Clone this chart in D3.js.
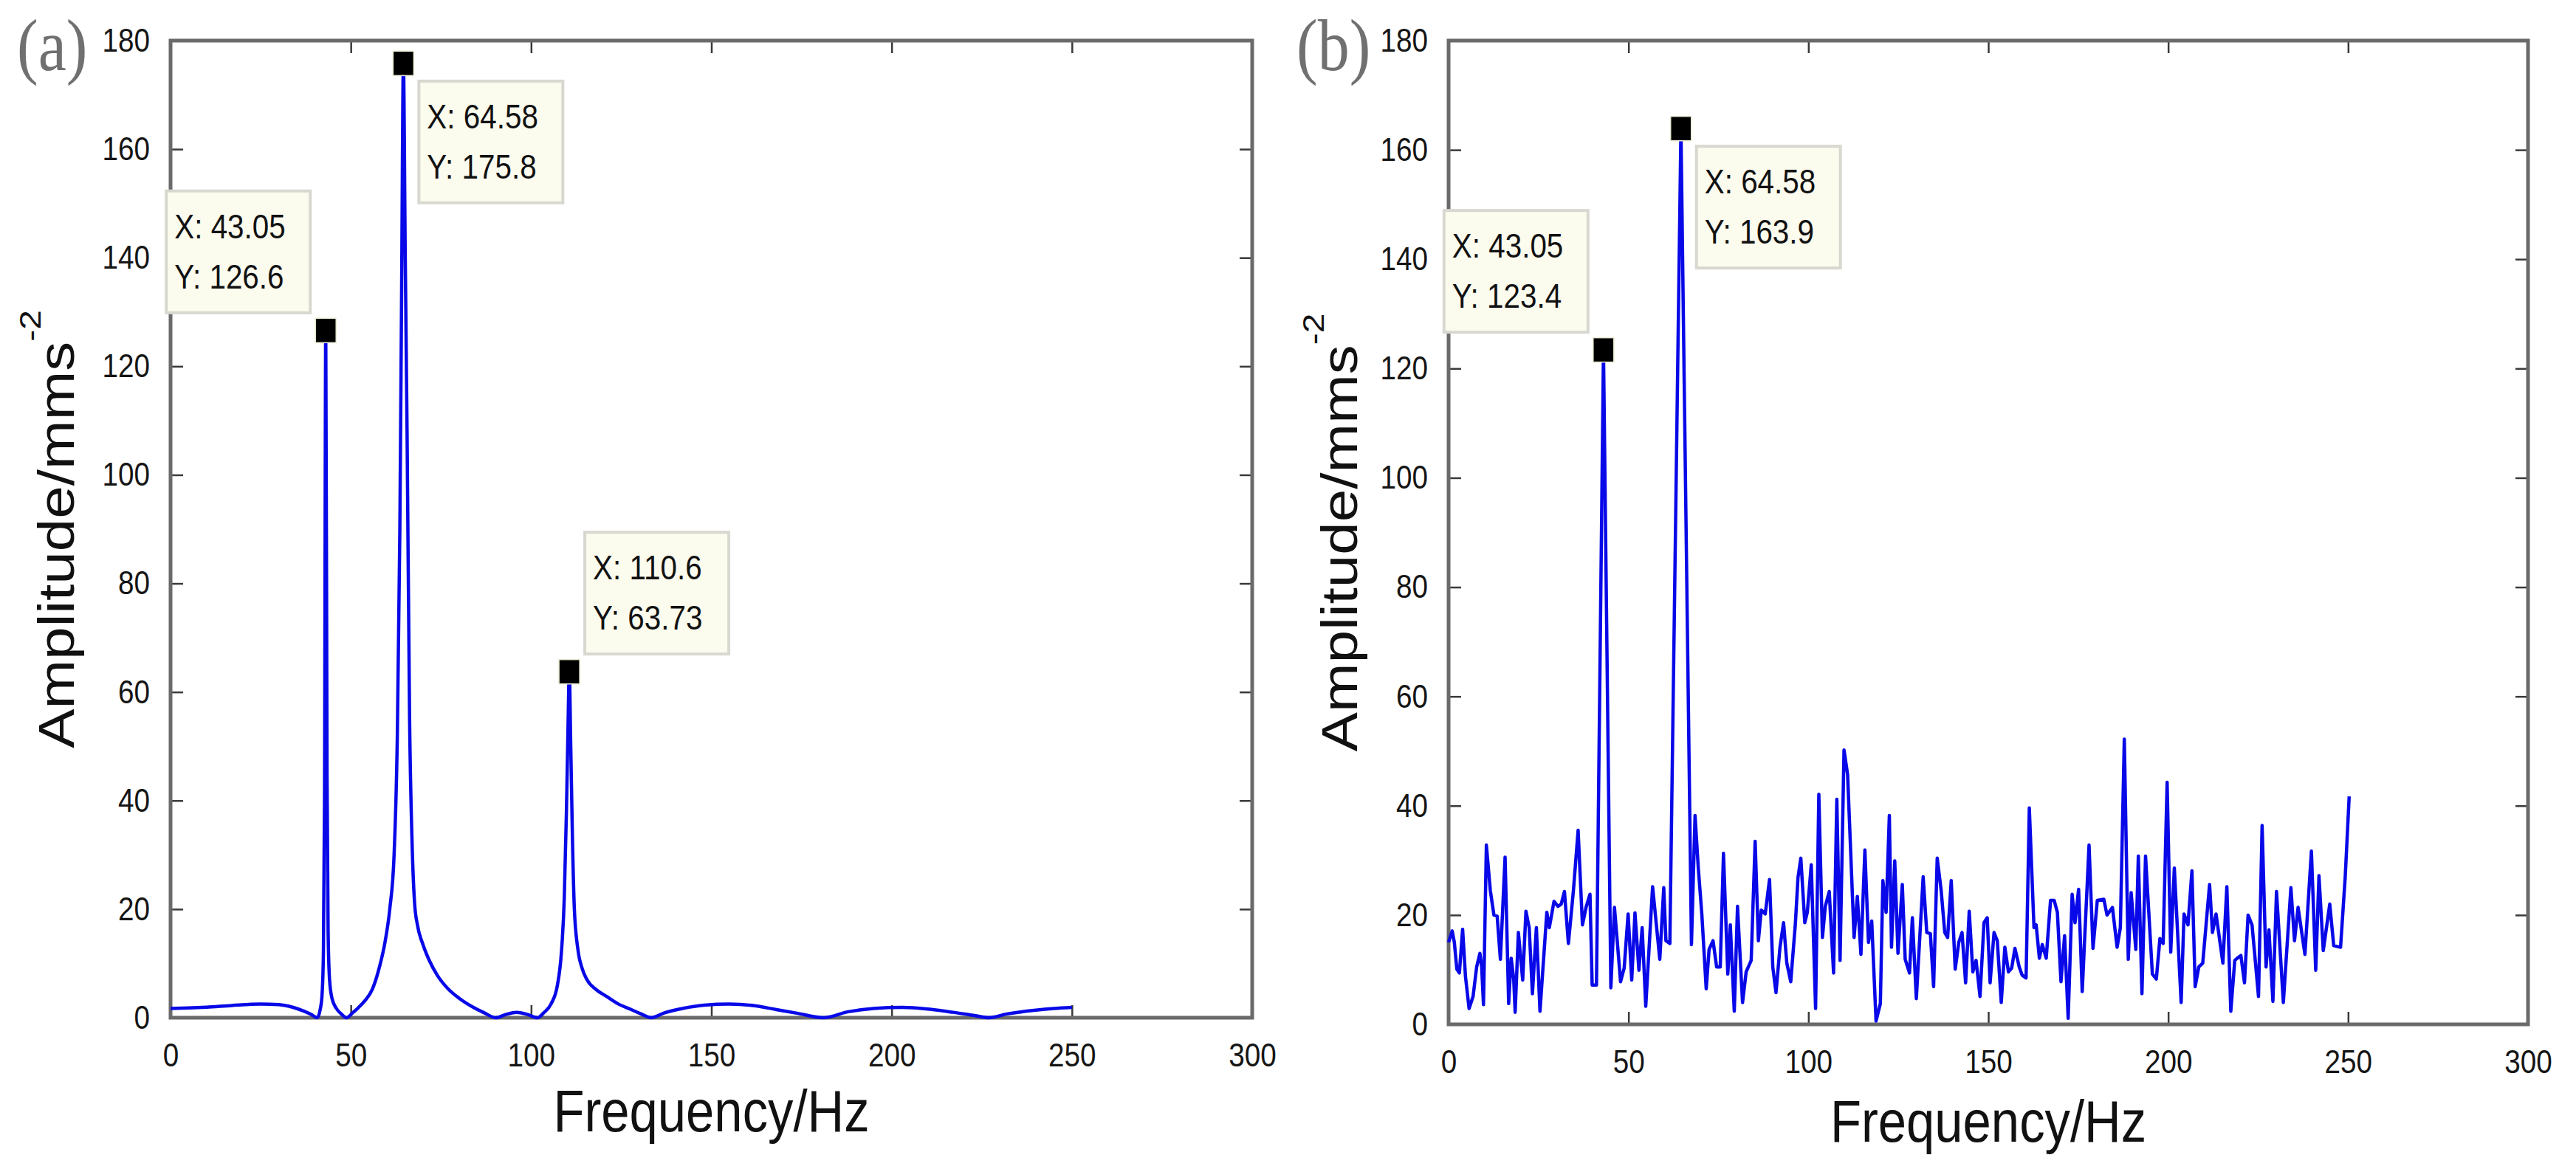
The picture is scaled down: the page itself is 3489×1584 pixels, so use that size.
<!DOCTYPE html>
<html>
<head>
<meta charset="utf-8">
<script src="https://cdn.jsdelivr.net/npm/d3@7"></script>
<style>
  body { margin: 0; background: #fff; }
  svg { display: block; }
  text { font-family: "Liberation Sans", Arial, Helvetica, sans-serif; }
</style>
</head>
<body>
<svg id="chart" width="3489" height="1584"></svg>
<script>
const xTicks = [0, 50, 100, 150, 200, 250, 300]
const yTicks = [0, 20, 40, 60, 80, 100, 120, 140, 160, 180]

// (a) spectrum
const freqA = [0, 5, 10, 17, 25, 30, 34, 37, 39, 40.7, 41.5, 42.0, 42.4, 42.7, 43.05, 43.4, 43.7, 44.1, 44.8, 46.0,
  47.5, 48.8, 50.5, 52, 54, 56, 58, 59.5, 60.8, 62.0, 62.9, 63.6, 64.1, 64.58, 65.1, 65.6, 66.3, 67.0, 67.7, 68.5,
  70, 71.8, 74, 77, 80, 84, 87, 90.2, 93, 96, 99, 101.8, 103.5, 105.5, 107.3, 108.4, 109.2, 109.8, 110.2, 110.6,
  111.0, 111.5, 112.0, 113.0, 114.2, 115.5, 118, 121, 124, 127.8, 130.5, 133.3, 137, 142, 148, 155, 162, 168, 174, 181,
  188, 195, 203, 210, 217, 223, 227, 232, 240, 245, 250]
const ampA = [1.7, 1.8, 1.95, 2.25, 2.5, 2.4, 1.9, 1.2, 0.6, 0, 1.5, 4, 12, 40, 126.6, 45, 16, 7, 3.5, 1.7,
  0.6, 0, 0.9, 1.8, 3.2, 5.3, 9.5, 14, 20, 30, 52, 90, 135, 175.8, 140, 108, 55, 32, 21, 17,
  13.5, 10.5, 7.8, 5.3, 3.6, 1.9, 0.9, 0, 0.6, 1.0, 0.6, 0, 0.9, 2.5, 6, 12, 22, 38, 52, 63.73,
  50, 32, 20, 12.5, 9, 7, 5.2, 3.9, 2.6, 1.5, 0.7, 0, 0.9, 1.7, 2.3, 2.5, 2.2, 1.5, 0.8, 0,
  1.1, 1.7, 1.9, 1.6, 1.0, 0.4, 0, 0.7, 1.4, 1.7, 1.9]

// (b) spectrum
const freqB = [0, 1.0, 1.6, 2.3, 3.0, 3.9, 4.7, 5.7, 6.8, 7.8, 8.7, 9.2, 9.7, 10.5, 11.6, 12.6, 13.5, 14.4, 15.7, 16.7,
  17.4, 18.1, 18.5, 19.4, 20.6, 21.5, 22.4, 23.3, 24.4, 25.4, 27.3, 28.0, 29.3, 30.4, 31.3, 32.2, 33.3, 34.7, 36.0, 37.2,
  38.2, 39.3, 39.9, 41.1, 43.05, 45.1, 46.1, 47.8, 48.8, 49.9, 50.9, 51.8, 52.9, 53.8, 54.8, 56.7, 58.7, 59.8, 60.4, 61.5,
  64.58, 67.5, 68.5, 69.4, 70.4, 71.6, 72.4, 73.5, 74.5, 75.5, 76.4, 77.6, 78.3, 79.4, 80.3, 81.7, 82.7, 84.1, 85.2, 86.1,
  86.9, 88.0, 89.2, 90.1, 91.0, 92.1, 93.1, 94.0, 95.1, 96.4, 97.1, 97.9, 99.0, 99.7, 100.8, 102.0, 102.9, 103.9, 104.7, 105.8,
  107.0, 107.9, 108.8, 109.9, 110.9, 112.7, 113.6, 114.6, 115.7, 116.7, 117.6, 118.8, 120.0, 120.7, 121.6, 122.5, 123.1, 124.0, 124.9, 126.1,
  126.9, 128.1, 128.9, 130.0, 131.9, 132.9, 133.9, 134.8, 135.8, 136.9, 137.9, 138.7, 139.7, 140.8, 141.8, 142.7, 143.7, 144.7, 145.7, 146.6,
  147.7, 148.8, 149.7, 150.5, 151.6, 152.5, 153.6, 154.6, 155.6, 156.5, 157.4, 158.6, 159.4, 160.5, 161.4, 162.7, 163.3, 164.2, 165.0, 166.1,
  167.3, 168.3, 169.2, 170.2, 171.2, 172.2, 173.3, 174.1, 175.1, 176.1, 178.0, 179.1, 180.3, 182.1, 183.0, 184.5, 185.8, 186.7, 187.8, 188.9,
  189.7, 191.0, 191.7, 192.7, 193.7, 195.6, 196.7, 197.7, 198.6, 199.7, 200.7, 201.7, 203.6, 204.4, 205.5, 206.6, 207.5, 208.5, 209.6, 211.5,
  212.3, 213.3, 215.2, 216.3, 217.4, 218.5, 219.2, 220.2, 221.2, 222.2, 223.3, 225.1, 226.1, 227.2, 228.0, 229.1, 230.1, 232.0, 234.1, 235.1,
  236.1, 238.0, 239.8, 241.0, 241.9, 243.1, 244.9, 246.0, 247.9, 249.2, 250.3]
const ampB = [15.0, 17.1, 15.0, 10.1, 9.4, 17.4, 8.7, 2.9, 5.1, 10.5, 13.0, 10.5, 3.6, 32.8, 24.5, 20.0, 19.8, 11.9, 30.6, 3.8,
  12.1, 8.3, 2.2, 16.8, 8.1, 20.7, 17.7, 5.6, 17.7, 2.4, 20.5, 17.7, 22.5, 21.6, 22.0, 24.3, 14.8, 24.5, 35.5, 18.2,
  21.4, 23.8, 7.2, 7.2, 123.4, 6.7, 21.4, 7.8, 10.3, 20.2, 8.1, 20.4, 9.9, 17.7, 3.3, 25.2, 11.9, 25.0, 15.3, 14.8,
  163.9, 14.6, 38.2, 28.6, 20.0, 6.5, 13.7, 15.3, 10.5, 10.5, 31.3, 9.2, 18.2, 2.4, 21.6, 4.0, 9.6, 11.7, 33.5, 15.3,
  20.9, 20.2, 26.5, 10.5, 5.8, 14.1, 18.6, 11.2, 7.8, 18.6, 26.8, 30.4, 18.6, 20.5, 29.2, 2.9, 42.1, 15.9, 21.6, 24.3,
  9.4, 41.2, 11.7, 50.2, 45.7, 15.9, 23.4, 12.8, 31.9, 15.0, 18.9, 0.6, 3.8, 26.3, 20.5, 38.2, 14.1, 29.9, 13.0, 25.6,
  11.9, 9.4, 19.5, 4.7, 27.0, 16.8, 16.6, 6.9, 30.4, 24.5, 16.8, 15.9, 26.3, 10.1, 15.0, 16.8, 7.6, 20.7, 9.6, 11.7,
  5.1, 18.6, 19.5, 7.6, 16.8, 15.3, 4.0, 14.1, 9.6, 10.3, 13.9, 10.5, 9.0, 8.5, 39.6, 17.7, 18.2, 12.1, 14.6, 12.1,
  22.7, 22.7, 20.5, 7.8, 16.2, 1.1, 23.8, 18.6, 24.7, 6.0, 32.8, 13.9, 22.7, 22.9, 20.0, 21.4, 14.1, 17.7, 52.2, 11.9,
  24.1, 13.7, 30.8, 5.6, 30.8, 9.2, 8.3, 15.7, 14.8, 44.3, 13.2, 28.6, 4.0, 20.2, 18.2, 28.1, 6.9, 10.5, 11.2, 25.6,
  16.8, 20.2, 11.2, 25.2, 2.4, 11.7, 12.1, 12.6, 7.6, 20.0, 18.2, 5.1, 36.4, 10.5, 17.3, 4.2, 24.3, 4.0, 25.0, 15.3,
  21.4, 12.8, 31.7, 9.9, 27.2, 13.5, 22.0, 14.4, 14.1, 27, 41.7]

// data tips
const tipXA = [43.05, 64.58, 110.6]
const tipYA = [126.6, 175.8, 63.73]
const tipXB = [43.05, 64.58]
const tipYB = [123.4, 163.9]

const panelLabels = ['(a)', '(b)']
const xTitle = 'Frequency/Hz'
const yTitle = 'Amplitude/mms'
const yTitleSup = '-2'

// the source figure is squeezed horizontally
const SQ = 0.86

const svg = d3.select('#chart')

const panels = [
  {left: 231, right: 1696, top: 55, bottom: 1379, ylabX: 100, titleY: 1533, tagX: 23,
    freq: freqA, amp: ampA, tx: tipXA, ty: tipYA, place: ['ul', 'lr', 'ur'], curve: d3.curveMonotoneX},
  {left: 1962, right: 3424, top: 55, bottom: 1388, ylabX: 1838, titleY: 1547, tagX: 1756,
    freq: freqB, amp: ampB, tx: tipXB, ty: tipYB, place: ['ul', 'lr'], curve: d3.curveLinear}
]

function narrowText (g, x, y, str, size, anchor) {
  return g.append('text')
      .attr('transform', `translate(${x},${y}) scale(${SQ},1)`)
      .attr('font-size', size)
      .attr('text-anchor', anchor || 'start')
      .attr('fill', '#111')
      .text(str)
}

function styleAxis (g) {
  g.select('.domain').remove()
  g.selectAll('.tick line').attr('stroke', '#3a3a3a').attr('stroke-width', 2.5)
  g.selectAll('.tick text')
      .attr('font-size', 45)
      .attr('fill', '#151515')
      .attr('transform', `scale(${SQ},1)`)
}

panels.forEach((p, k) => {
  const x = d3.scaleLinear().domain([0, 300]).range([p.left, p.right])
  const y = d3.scaleLinear().domain([0, 180]).range([p.bottom, p.top])
  const g = svg.append('g').attr('class', 'panel_' + k)

  g.append('g')
      .attr('transform', `translate(0,${p.bottom})`)
      .call(d3.axisBottom(x).tickValues(xTicks).tickSizeInner(-17).tickSizeOuter(0).tickPadding(34))
      .call(styleAxis)
  g.append('g')
      .attr('transform', `translate(0,${p.top})`)
      .call(d3.axisTop(x).tickValues(xTicks).tickSizeInner(-17).tickSizeOuter(0).tickFormat(''))
      .call(styleAxis)
  g.append('g')
      .attr('transform', `translate(${p.left},0)`)
      .call(d3.axisLeft(y).tickValues(yTicks).tickSizeInner(-17).tickSizeOuter(0).tickPadding(28 / SQ))
      .call(styleAxis)
  g.append('g')
      .attr('transform', `translate(${p.right},0)`)
      .call(d3.axisRight(y).tickValues(yTicks).tickSizeInner(-17).tickSizeOuter(0).tickFormat(''))
      .call(styleAxis)

  g.append('rect')
      .attr('x', p.left)
      .attr('y', p.top)
      .attr('width', p.right - p.left)
      .attr('height', p.bottom - p.top)
      .attr('fill', 'none')
      .attr('stroke', '#6a6a6a')
      .attr('stroke-width', 5)

  const line = d3.line()
      .x(d => x(d[0]))
      .y(d => y(d[1]))
      .curve(p.curve)
  g.append('path')
      .datum(d3.zip(p.freq, p.amp))
      .attr('d', line)
      .attr('fill', 'none')
      .attr('stroke', '#0808e8')
      .attr('stroke-width', 4.5)
      .attr('stroke-linejoin', 'round')

  // data tips
  const bw = 195
  const bh = 165
  p.tx.forEach((tx, i) => {
    const cx = x(tx)
    const cy = y(p.ty[i])
    const side = p.place[i]
    const bx = side === 'ul' ? cx - 21 - bw : cx + 21
    const by = side === 'lr' ? cy + 24 : cy - 24 - bh
    g.append('rect')
        .attr('x', bx)
        .attr('y', by)
        .attr('width', bw)
        .attr('height', bh)
        .attr('fill', '#fbfbee')
        .attr('stroke', '#d8d8d0')
        .attr('stroke-width', 4)
    narrowText(g, bx + 11, by + 64, 'X: ' + tx, 47)
    narrowText(g, bx + 11, by + 132, 'Y: ' + p.ty[i], 47)
    g.append('rect')
        .attr('x', cx - 14)
        .attr('y', cy - 16.5)
        .attr('width', 28)
        .attr('height', 33)
        .attr('fill', '#000')
        .attr('stroke', '#e8e8d0')
        .attr('stroke-width', 1.5)
  })

  // titles
  narrowText(g, (p.left + p.right) / 2, p.titleY, xTitle, 80, 'middle')
  const yl = g.append('text')
      .attr('transform', `translate(${p.ylabX},${(p.top + p.bottom) / 2}) scale(${SQ},1) rotate(-90)`)
      .attr('text-anchor', 'middle')
      .attr('font-size', 80)
      .attr('fill', '#111')
  yl.append('tspan').text(yTitle)
  yl.append('tspan').attr('font-size', 48).attr('dy', -52).text(yTitleSup)

  narrowText(g, p.tagX, 95, panelLabels[k], 100)
      .attr('font-family', 'Liberation Serif')
      .style('font-family', '"Liberation Serif", "Times New Roman", serif')
      .attr('fill', '#707070')
})
</script>
</body>
</html>
